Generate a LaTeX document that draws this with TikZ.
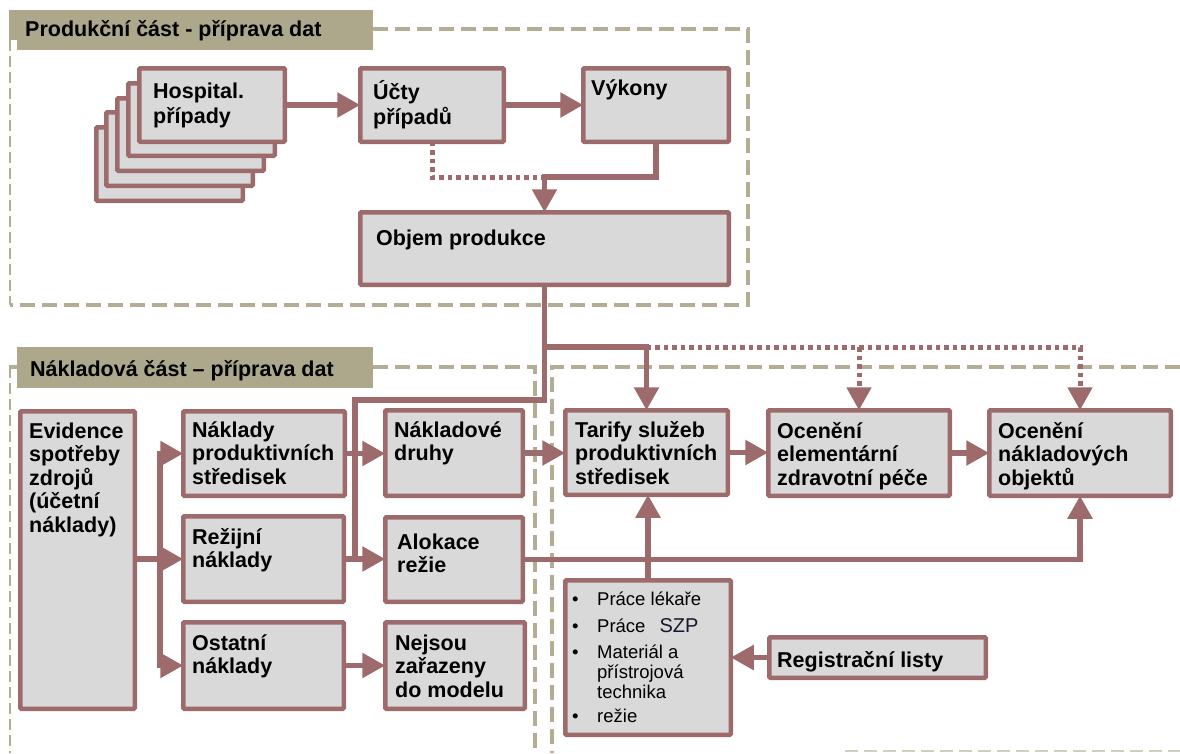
\documentclass[tikz,border=0pt]{standalone}
\usepackage{fontspec}
\setmainfont{Liberation Sans}
\usetikzlibrary{arrows.meta,calc}

\definecolor{edge}{HTML}{9D6B6B}
\definecolor{boxfill}{HTML}{D9D9D9}
\definecolor{bandtan}{HTML}{ADA78B}
\definecolor{frametan}{HTML}{B3AD95}
\definecolor{framepale}{HTML}{D2CEBE}
\definecolor{navyink}{HTML}{15182E}

% multi-line label, anchored at the baseline of its first line
\newcommand{\lbl}[1]{\parbox[t]{300pt}{\raggedright\lineskiplimit=-100pt\relax #1}}
% same, with looser line spacing
\newcommand{\lbll}[1]{\parbox[t]{300pt}{\raggedright\baselineskip=25pt\lineskiplimit=-100pt\relax #1}}
% box given by its outer edges: name, x1, y1, x2, y2
\newcommand{\stage}[5]{\node[stagebox, minimum width={(#4-#2-4.5)*1pt}, minimum height={(#5-#3-4.5)*1pt}] (#1) at (#2+2.25,#3+2.25) {};}
\newcommand{\itm}{\makebox[25pt][l]{•}}
\newcommand{\cnt}{\hspace*{25pt}}

\tikzset{
  stagebox/.style={draw=edge, fill=boxfill, line width=4.5pt, rounded corners=1pt,
    inner sep=0pt, outer sep=0pt, anchor=north west},
  caption/.style={anchor=base west, inner sep=0pt,
    font=\fontsize{21.5}{23.5}\selectfont\bfseries},
  listtext/.style={anchor=base west, inner sep=0pt,
    font=\fontsize{18.5}{20}\selectfont},
  headband/.style={fill=bandtan, inner sep=0pt, outer sep=0pt, anchor=north west},
  tip/.style={-{Triangle[length=23pt,width=24pt]}},
  link/.style={draw=edge, line width=5.5pt, tip},
  plain/.style={draw=edge, line width=5.5pt},
  dotlink/.style={draw=edge, line width=5pt, dash pattern=on 4.5pt off 4pt},
  zone/.style={draw=frametan, line width=4pt, dash pattern=on 15pt off 7pt},
  zonethin/.style={draw=frametan, line width=1.2pt, dash pattern=on 11pt off 5pt},
  zonepale/.style={draw=framepale, line width=2.5pt, dash pattern=on 13pt off 6pt},
}

\begin{document}
\begin{tikzpicture}[x=1pt,y=-1pt]
\useasboundingbox (0,0) rectangle (1180,753);

% ---------- section frames ----------
\draw[zone] (373,29) -- (748,29) -- (748,305) -- (10,305);
\draw[zonethin] (10,40) -- (10,305);
\draw[zonethin] (10,367) -- (10,753);
\draw[draw=frametan, line width=4pt] (9,367) -- (17,367);
\draw[zone] (373,367) -- (535,367) -- (535,753);
\draw[zone] (1180,367) -- (552,367) -- (552,753);
\draw[zonepale] (845,751) -- (1180,751);

% ---------- section headers ----------
\fill[bandtan] (9,10) rectangle (17,40);
\node[headband, minimum width=356pt, minimum height=40pt] (head1) at (17,10) {};
\node[caption] (head1-t) at (25,36) {Produkční část - příprava dat};
\node[headband, minimum width=356pt, minimum height=41pt] (head2) at (17,347) {};
\node[caption] (head2-t) at (30,376) {Nákladová část – příprava dat};

% ---------- production part ----------
\stage{hosp4}{94}{125}{245}{203}
\stage{hosp3}{104}{110}{255}{188}
\stage{hosp2}{115}{96}{266}{173}
\stage{hosp1}{126}{81}{277}{158}
\stage{hosp}{137}{66}{287}{144}
\node[caption] (hosp-t) at (153,98.5) {\lbll{Hospital.\\případy}};

\stage{ucty}{358}{66}{506}{144}
\node[caption] (ucty-t) at (373,99.5) {\lbll{Účty\\případů}};

\stage{vykony}{581}{66}{731}{144}
\node[caption] (vykony-t) at (591,95) {Výkony};

\stage{objem}{358}{210}{731}{287}
\node[caption] (objem-t) at (376,245) {Objem produkce};

% ---------- cost part ----------
\stage{evid}{18}{409}{137}{711}
\node[caption] (evid-t) at (29,438) {\lbl{Evidence\\spotřeby\\zdrojů\\(účetní\\náklady)}};

\stage{nps}{181}{409}{347}{498}
\node[caption] (nps-t) at (192,437) {\lbl{Náklady\\produktivních\\středisek}};

\stage{rez}{181}{514}{346}{604}
\node[caption] (rez-t) at (192,544) {\lbl{Režijní\\náklady}};

\stage{ost}{181}{620}{346}{711}
\node[caption] (ost-t) at (192,650) {\lbl{Ostatní\\náklady}};

\stage{ndruhy}{383}{408}{525}{498}
\node[caption] (ndruhy-t) at (394,437) {\lbl{Nákladové\\druhy}};

\stage{alok}{383}{515}{525}{604}
\node[caption] (alok-t) at (397,549) {\lbl{Alokace\\režie}};

\stage{nejsou}{383}{620}{527}{711}
\node[caption] (nejsou-t) at (395,650) {\lbl{Nejsou\\zařazeny\\do modelu}};

% ---------- valuation part ----------
\stage{tarify}{563}{408}{730}{497}
\node[caption] (tarify-t) at (575,437) {\lbl{Tarify služeb\\produktivních\\středisek}};

\stage{ocel}{766}{408}{952}{498}
\node[caption] (ocel-t) at (777,438) {\lbl{Ocenění\\elementární\\zdravotní péče}};

\stage{ocnak}{987}{408}{1173}{498}
\node[caption] (ocnak-t) at (998,438) {\lbl{Ocenění\\nákladových\\objektů}};

\stage{bullets}{563}{578}{733}{737}
\node[listtext] (bullets-t) at (572,605) {\lbl{\itm Práce lékaře\\[7pt]
  \itm Práce\hspace{14pt}{\fontsize{20}{20}\selectfont\color{navyink}SZP}\\[6pt]
  \itm Materiál a\\ \cnt přístrojová\\ \cnt technika\\[4pt]
  \itm režie}};

\stage{reg}{767}{635}{988}{680}
\node[caption] (reg-t) at (777,667) {Registrační listy};

% ---------- helper levels ----------
\coordinate (yjoin) at (0,177);
\coordinate (ysplit) at (0,347);
\coordinate (ydrop) at (0,400);
\coordinate (xfeed) at (355,0);
\coordinate (fork) at (160,0);

% ---------- connectors: production ----------
\draw[link] (hosp.east) -- (ucty.west);
\draw[link] (ucty.east) -- (vykony.west);
\draw[dotlink] (ucty.south) |- (objem.north |- yjoin);
\draw[link] (vykony.south) |- (objem.north |- yjoin) -- (objem.north);

% ---------- connectors: from production volume ----------
\draw[plain] (objem.south) -- (objem.south |- ydrop) -| (xfeed |- alok.west);
\draw[link] (objem.south |- ysplit) -| (tarify.north);
\draw[dotlink, tip] (tarify.north |- ysplit) -| (ocnak.north);
\draw[dotlink, tip] (ocel.north |- ysplit) -- (ocel.north);

% ---------- connectors: costs ----------
\draw[link] (evid.east |- rez.west) -- (rez.west);
\draw[link] (fork |- rez.west) |- (nps.west);
\draw[link] (fork |- rez.west) |- (ost.west);
\draw[link] (nps.east) -- (nps.east -| ndruhy.west);
\draw[link] (rez.east) -- (rez.east -| alok.west);
\draw[link] (ost.east) -- (ost.east -| nejsou.west);
\draw[link] (ndruhy.east) -- (ndruhy.east -| tarify.west);
\draw[link] (tarify.east) -- (tarify.east -| ocel.west);
\draw[link] (ocel.east) -- (ocnak.west);
\draw[link] (alok.east) -| (ocnak.south);
\draw[link] (bullets.north) -- (bullets.north |- tarify.south);
\draw[link] (reg.west) -- (reg.west -| bullets.east);
\end{tikzpicture}
\end{document}
